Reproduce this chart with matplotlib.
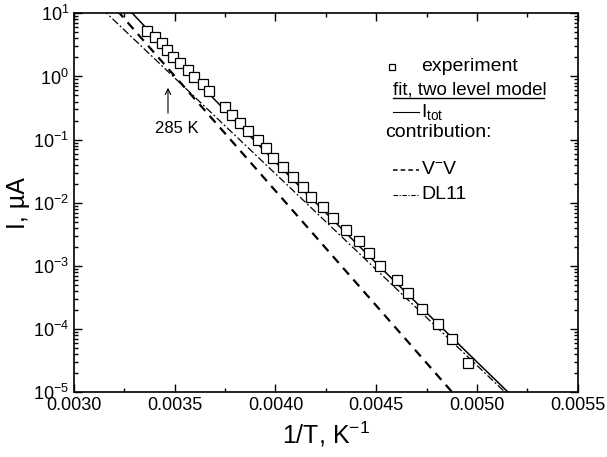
import numpy as np
import matplotlib
matplotlib.use("Agg")
import matplotlib.pyplot as plt
from matplotlib.ticker import MultipleLocator, FormatStrFormatter, LogLocator

plt.rcParams['font.family'] = ['Liberation Sans', 'DejaVu Sans']
plt.rcParams['mathtext.fontset'] = 'custom'
plt.rcParams['mathtext.rm'] = 'Liberation Sans'
plt.rcParams['mathtext.it'] = 'Liberation Sans:italic'

# experiment: 1/T (1/K) and current (uA)
inv_T = [0.003364, 0.003402, 0.003435, 0.003463, 0.003493, 0.003526, 0.003568,
         0.003597, 0.003639, 0.003670, 0.003750, 0.003783, 0.003824, 0.003865,
         0.003912, 0.003951, 0.003990, 0.004036, 0.004089, 0.004138, 0.004177,
         0.004238, 0.004287, 0.004350, 0.004415, 0.004465, 0.004521, 0.004602,
         0.004660, 0.004726, 0.004806, 0.004878, 0.004958]
current = [5.30, 4.26, 3.35, 2.62, 2.06, 1.62, 1.27, 0.970, 0.752, 0.589, 0.332,
           0.2455, 0.1855, 0.137, 0.0994, 0.0724, 0.0521, 0.0369, 0.0259, 0.0178,
           0.0122, 0.00849, 0.00569, 0.00371, 0.00246, 0.001575, 0.000985,
           0.000600, 0.000370, 0.000208, 0.000121, 6.98e-5, 2.94e-5]

# two level model parameters (activation energy eV, prefactor uA)
k_B = 8.617e-5
Ea_vv, I0_vv = 0.721, 5.30e12
Ea_dl, I0_dl = 0.602, 3.94e10

x = np.linspace(0.0030, 0.0055, 400)
I_vv = I0_vv * np.exp(-Ea_vv * x / k_B)
I_dl = I0_dl * np.exp(-Ea_dl * x / k_B)
I_tot = I_vv + I_dl

fig = plt.figure(figsize=(6.07, 4.57), dpi=100)
ax = fig.add_axes([0.1219, 0.1416, 0.8298, 0.8293])

ax.plot(x, I_tot, color='black', lw=1.1, ls='-')
ax.plot(x, I_vv, color='black', lw=1.6, ls=(0, (4, 3)))
ax.plot(x, I_dl, color='black', lw=0.9, ls=(0, (6, 2, 1.5, 2)))
ax.plot(inv_T, current, ls='none', marker='s', ms=6.5, mfc='white', mec='black', mew=0.9)

ax.set_yscale('log')
ax.set_xlim(0.0030, 0.0055)
ax.set_ylim(1e-5, 1e1)
ax.xaxis.set_major_locator(MultipleLocator(0.0005))
ax.xaxis.set_minor_locator(MultipleLocator(0.00025))
ax.xaxis.set_major_formatter(FormatStrFormatter('%.4f'))
ax.yaxis.set_major_locator(LogLocator(base=10, numticks=10))
ax.yaxis.set_minor_locator(LogLocator(base=10, subs=np.arange(2, 10), numticks=10))
ax.tick_params(which='both', direction='in', top=True, right=True, labelsize=13, width=1)
ax.tick_params(which='major', length=6)
ax.tick_params(which='minor', length=3)
for s in ax.spines.values():
    s.set_linewidth(1.2)

ax.set_xlabel('1/T, K$^{-1}$', fontsize=18, labelpad=4)
ax.set_ylabel('I, µA', fontsize=18, labelpad=2)

# legend built by hand like the original
tr = ax.transAxes
def ax_xy(px, py):
    return ((px - 74) / 503.7, (392.3 - py) / 379.0)

mx, my = ax_xy(392, 67)
ax.plot([mx], [my], transform=tr, marker='s', ms=5, mfc='white', mec='black', mew=0.9)
tx, ty = ax_xy(421, 67)
ax.text(tx, ty, 'experiment', transform=tr, fontsize=14, va='center')
tx, ty = ax_xy(393, 90)
ax.text(tx, ty, 'fit, two level model', transform=tr, fontsize=13.5, va='center')
ux0, uy = ax_xy(393, 98)
ux1, _ = ax_xy(544, 98)
ax.plot([ux0, ux1], [uy, uy], transform=tr, color='black', lw=1)
for py, style, lw, label in [(112, '-', 0.8, 'I$_{\\rm tot}$'),
                             (170, (0, (3, 2)), 1.1, 'V$^{-}$V'),
                             (195, (0, (4, 1.5, 1, 1.5)), 0.8, 'DL11')]:
    x0, yy = ax_xy(393, py)
    x1, _ = ax_xy(419, py)
    ax.plot([x0, x1], [yy, yy], transform=tr, color='black', lw=lw, ls=style)
    tx, _ = ax_xy(421, py)
    ax.text(tx, yy, label, transform=tr, fontsize=14, va='center')
tx, ty = ax_xy(385, 133)
ax.text(tx, ty, 'contribution:', transform=tr, fontsize=14, va='center')

# 285 K marker
a0 = ax_xy(168, 116)
a1 = ax_xy(168, 85)
ax.annotate('', xy=a1, xytext=a0, xycoords=tr, textcoords=tr,
            arrowprops=dict(arrowstyle='->', color='black', lw=0.8))
tx, ty = ax_xy(177, 129)
ax.text(tx, ty, '285 K', transform=tr, fontsize=12, ha='center', va='center')

fig.savefig('out.png', dpi=100)
